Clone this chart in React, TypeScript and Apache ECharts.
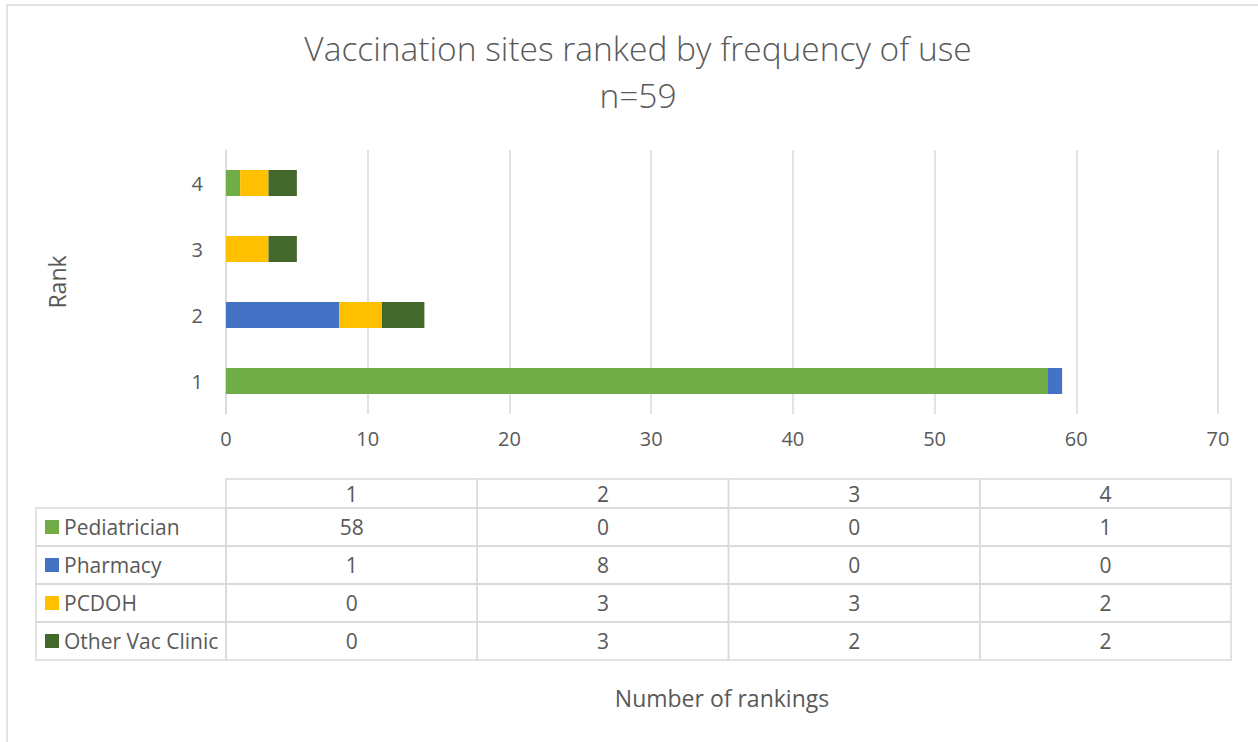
import React, { useEffect, useRef } from "react";
import * as echarts from "echarts";

const ranks = ["1", "2", "3", "4"];
const seriesNames = ["Pediatrician", "Pharmacy", "PCDOH", "Other Vac Clinic"];
const pediatrician = [58, 0, 0, 1];
const pharmacy = [1, 8, 0, 0];
const pcdoh = [0, 3, 3, 2];
const otherVacClinic = [0, 3, 2, 2];
const seriesValues = [pediatrician, pharmacy, pcdoh, otherVacClinic];
const seriesColors = ["#70ad47", "#4472c4", "#ffc000", "#43682b"];
const xTicks = { min: 0, max: 70, interval: 10 };

const FONT = "'Open Sans', 'Noto Sans', sans-serif";
const TEXT = "#595959";
const LINE = "#d9d9d9";

export default function App() {
  const ref = useRef<HTMLDivElement>(null);
  useEffect(() => {
    if (!ref.current) return;
    const chart = echarts.init(ref.current, undefined, { renderer: "svg" });

    // Table layout
    const tLeft = 36;
    const cLeft = 226;
    const cRight = 1231;
    const colW = (cRight - cLeft) / ranks.length;
    const headTop = 479;
    const headH = 29;
    const rowH = 38;
    const cellStyle = { stroke: LINE, lineWidth: 1.5, fill: "none" };
    const tFont = `21px ${FONT}`;

    const g: any[] = [];
    g.push({
      type: "rect",
      shape: { x: 7, y: 5, width: 1400, height: 900 },
      style: { stroke: LINE, lineWidth: 1.5, fill: "none" },
      silent: true,
    });
    ranks.forEach((rk, i) => {
      g.push({
        type: "rect",
        shape: { x: cLeft + i * colW, y: headTop, width: colW, height: headH },
        style: cellStyle,
      });
      g.push({
        type: "text",
        x: cLeft + i * colW + colW / 2,
        y: headTop + headH / 2,
        style: { text: rk, fill: TEXT, font: tFont, align: "center", verticalAlign: "middle" },
      });
    });
    seriesNames.forEach((name, r) => {
      const y0 = headTop + headH + r * rowH;
      g.push({
        type: "rect",
        shape: { x: tLeft, y: y0, width: cLeft - tLeft, height: rowH },
        style: cellStyle,
      });
      g.push({
        type: "rect",
        shape: { x: 45, y: y0 + rowH / 2 - 7, width: 14, height: 14 },
        style: { fill: seriesColors[r] },
      });
      g.push({
        type: "text",
        x: 64,
        y: y0 + rowH / 2,
        style: { text: name, fill: TEXT, font: tFont, align: "left", verticalAlign: "middle" },
      });
      seriesValues[r].forEach((v, i) => {
        g.push({
          type: "rect",
          shape: { x: cLeft + i * colW, y: y0, width: colW, height: rowH },
          style: cellStyle,
        });
        g.push({
          type: "text",
          x: cLeft + i * colW + colW / 2,
          y: y0 + rowH / 2,
          style: { text: String(v), fill: TEXT, font: tFont, align: "center", verticalAlign: "middle" },
        });
      });
    });

    chart.setOption({
      animation: false,
      backgroundColor: "#ffffff",
      textStyle: { fontFamily: FONT },
      title: {
        text: "Vaccination sites ranked by frequency of use\nn=59",
        left: 633,
        textAlign: "center",
        top: 19,
        textStyle: {
          fontFamily: FONT,
          fontSize: 33.5,
          fontWeight: 300,
          color: TEXT,
          lineHeight: 47,
        },
      },
      grid: { left: 226, right: 40, top: 150, height: 264, containLabel: false },
      xAxis: {
        type: "value",
        min: xTicks.min,
        max: xTicks.max,
        interval: xTicks.interval,
        name: "Number of rankings",
        nameLocation: "middle",
        nameGap: 272,
        nameTextStyle: { color: TEXT, fontSize: 23, fontFamily: FONT, verticalAlign: "top" },
        axisLine: { show: false },
        axisTick: { show: false },
        axisLabel: { color: TEXT, fontSize: 20, margin: 14, fontFamily: FONT },
        splitLine: { show: true, lineStyle: { color: LINE, width: 1.5 } },
      },
      yAxis: {
        type: "category",
        data: ranks,
        name: "Rank",
        nameLocation: "middle",
        nameGap: 158,
        nameRotate: 90,
        nameTextStyle: { color: TEXT, fontSize: 23, fontFamily: FONT },
        axisLine: { show: true, lineStyle: { color: LINE, width: 1.5 } },
        axisTick: { show: false },
        axisLabel: { color: TEXT, fontSize: 20, margin: 23, fontFamily: FONT },
      },
      series: seriesNames.map((name, i) => ({
        name,
        type: "bar",
        stack: "total",
        barWidth: 26,
        data: seriesValues[i],
        itemStyle: { color: seriesColors[i] },
      })),
      graphic: g,
    });
    return () => chart.dispose();
  }, []);
  return (
    <div
      ref={ref}
      style={{ position: "absolute", left: 0, top: 0, width: 1258, height: 742 }}
    />
  );
}
